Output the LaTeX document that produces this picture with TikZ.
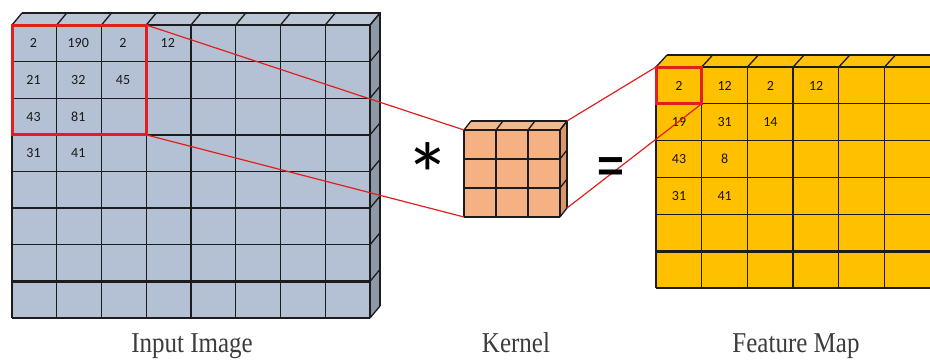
\documentclass[tikz,border=0pt]{standalone}
\usepackage{fontspec}
\usepackage{graphicx}
\setmainfont{Liberation Serif}
\newfontfamily\cellfont{Carlito}
\newfontfamily\symfont{Liberation Sans}
\definecolor{inface}{HTML}{B4C0D3}
\definecolor{intop}{HTML}{BAC5D5}
\definecolor{inside}{HTML}{8E99A8}
\definecolor{kface}{HTML}{F4B183}
\definecolor{ktop}{HTML}{F2B88F}
\definecolor{kside}{HTML}{D9976E}
\definecolor{fface}{HTML}{FFC000}
\definecolor{ftop}{HTML}{FFC20A}
\definecolor{gridc}{HTML}{1C1C1C}
\definecolor{redc}{HTML}{E0201E}
\definecolor{labelc}{HTML}{3C3C3C}
\begin{document}
\begin{tikzpicture}[x=1pt,y=-1pt,
  gridline/.style={draw=gridc,line width=1.3pt},
  thickline/.style={draw=gridc,line width=2.6pt},
  redbox/.style={draw=redc,line width=3pt},
  redline/.style={draw=redc,line width=1.2pt},
  incell/.style={font=\cellfont\fontsize{14}{14}\selectfont,text=black!90,inner sep=0pt},
  fcell/.style={font=\cellfont\fontsize{14}{14}\selectfont,text=black!85!brown,inner sep=0pt},
  caption/.style={font=\fontsize{25}{25}\selectfont,text=labelc,anchor=base}]
\useasboundingbox (0,0) rectangle (930,364);
\fill[white] (0,0) rectangle (930,364);
\clip (0,0) rectangle (930,364);

% ---------- input image: 8 x 8 block ----------
\fill[inface] (12,25) rectangle (370,318);
\fill[intop] (12,25) -- (22,13) -- (380,13) -- (370,25) -- cycle;
\fill[inside] (370,25) -- (380,13) -- (380,306) -- (370,318) -- cycle;
\foreach \i in {0,...,8}{
  \pgfmathsetmacro\xx{12+\i*44.75}
  \draw[gridline] (\xx,25) -- (\xx,318);
  \draw[gridline] (\xx,25) -- ++(10,-12);
}
\foreach \j in {0,...,8}{
  \pgfmathsetmacro\yy{25+\j*36.625}
  \draw[gridline] (12,\yy) -- (370,\yy);
  \draw[gridline] (370,\yy) -- ++(10,-12);
}
\draw[gridline] (22,13) -- (380,13) -- (380,306);
\draw[thickline] (12,134.875) -- (370,134.875);
\draw[thickline] (12,281.375) -- (370,281.375);
\foreach \c/\r/\t in {0/0/2,1/0/190,2/0/2,3/0/12,0/1/21,1/1/32,2/1/45,0/2/43,1/2/81,0/3/31,1/3/41}{
  \node[incell] (in-\c-\r) at ({33.5+\c*44.75},{43.3+\r*36.625}) {\t};
}
\draw[redbox] (12,25) rectangle (146.25,134.875);
\coordinate (inTR) at (146.25,25);
\coordinate (inBR) at (146.25,134.875);

% ---------- kernel: 3 x 3 block ----------
\fill[kface] (464,130) rectangle (560,217);
\fill[ktop] (464,130) -- (471,121) -- (567,121) -- (560,130) -- cycle;
\fill[kside] (560,130) -- (567,121) -- (567,208) -- (560,217) -- cycle;
\foreach \i in {0,...,3}{
  \pgfmathsetmacro\xx{464+\i*32}
  \draw[gridline] (\xx,130) -- (\xx,217);
  \draw[gridline] (\xx,130) -- ++(7,-9);
}
\foreach \j in {0,...,3}{
  \pgfmathsetmacro\yy{130+\j*29}
  \draw[gridline] (464,\yy) -- (560,\yy);
  \draw[gridline] (560,\yy) -- ++(7,-9);
}
\draw[gridline] (471,121) -- (567,121) -- (567,208);
\coordinate (kTL) at (464,130);
\coordinate (kBL) at (464,217);
\coordinate (kTR) at (567,121);
\coordinate (kBR) at (567,208);

% ---------- feature map: 6 x 6 block ----------
\fill[fface] (656,67) rectangle (940,288);
\fill[ftop] (656,67) -- (667,55) -- (951,55) -- (940,67) -- cycle;
\foreach \i in {0,...,6}{
  \pgfmathsetmacro\xx{656+\i*45.7}
  \draw[gridline] (\xx,67) -- (\xx,288);
  \draw[gridline] (\xx,67) -- ++(11,-12);
}
\foreach \j in {0,...,6}{
  \pgfmathsetmacro\yy{67+\j*36.83}
  \draw[gridline] (656,\yy) -- (940,\yy);
}
\draw[gridline] (667,55) -- (951,55);
\draw[thickline] (656,251.2) -- (940,251.2);
\foreach \c/\r/\t in {0/0/2,1/0/12,2/0/2,3/0/12,0/1/19,1/1/31,2/1/14,0/2/43,1/2/8,0/3/31,1/3/41}{
  \node[fcell] (fm-\c-\r) at ({679+\c*45.7},{85.5+\r*36.83}) {\t};
}
\draw[redbox] (656,67) rectangle (701.7,103.8);
\coordinate (fTL) at (656,67);
\coordinate (fBR) at (701.7,103.8);

% ---------- projection lines ----------
\draw[redline] (inTR) -- (kTL);
\draw[redline] (inBR) -- (kBL);
\draw[redline] (kTR) -- (fTL);
\draw[redline] (kBR) -- (fBR);

% ---------- operators and captions ----------
\node[font=\cellfont\fontsize{90}{90}\selectfont,inner sep=0pt] (star) at (428,175) {*};
\node[font=\symfont\bfseries\fontsize{46}{46}\selectfont,inner sep=0pt] (eq) at (611,170) {=};
\node[caption] (capin) at (192,352) {\scalebox{1}[1.15]{Input Image}};
\node[caption] (capk) at (516,352) {\scalebox{1}[1.15]{Kernel}};
\node[caption] (capf) at (796,352) {\scalebox{1}[1.15]{Feature Map}};
\end{tikzpicture}
\end{document}
